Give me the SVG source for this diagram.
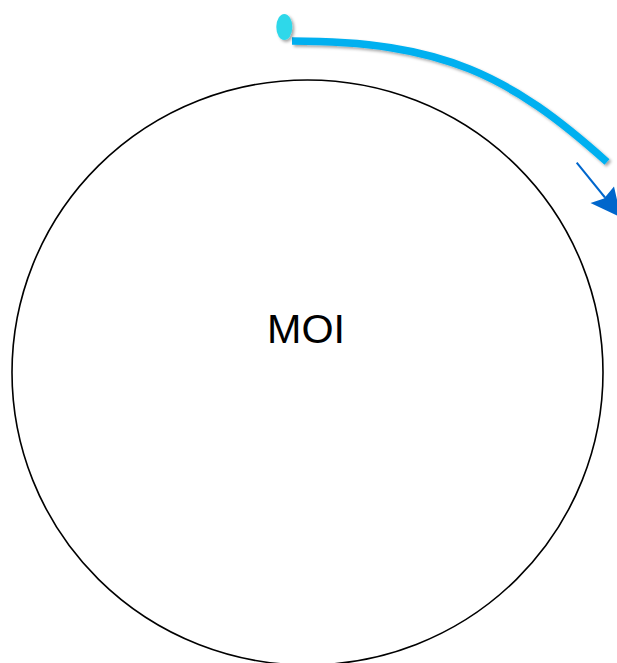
<svg xmlns="http://www.w3.org/2000/svg" width="617" height="663" viewBox="0 0 617 663">
<defs>
<filter id="sh" x="-20%" y="-20%" width="150%" height="150%">
<feDropShadow dx="2" dy="2" stdDeviation="1.8" flood-color="#000" flood-opacity="0.35"/>
</filter>
<style>
.moi{fill:#fff;stroke:#000;stroke-width:1.6}
.lbl{font-family:"Liberation Sans","Open Sans",Arial,sans-serif;font-size:40px;fill:#000}
.arc{fill:none;stroke:#00B0F0;stroke-width:7.5}
.dot{fill:#2ED8EA}
.arr{stroke:#0066CC;stroke-width:2;fill:none}
.head{fill:#0066CC}
</style>
</defs>
<rect width="617" height="663" fill="#fff"/>
<g id="moi">
<ellipse class="moi" cx="307.5" cy="372.5" rx="295.5" ry="292.5"/>
<text class="lbl" x="306" y="343" text-anchor="middle" textLength="78" lengthAdjust="spacingAndGlyphs">MOI</text>
</g>
<g id="rotation">
<path class="arc" filter="url(#sh)" d="M292,41 C442,41 510,75 607,162"/>
<ellipse class="dot" filter="url(#sh)" cx="284.3" cy="27" rx="8" ry="13"/>
</g>
<g id="connectors">
<line class="arr" x1="576.7" y1="162.7" x2="605" y2="197.5"/>
<polygon class="head" points="621,217.5 590.5,203 604,198.5 614,186.5"/>
</g>
</svg>
